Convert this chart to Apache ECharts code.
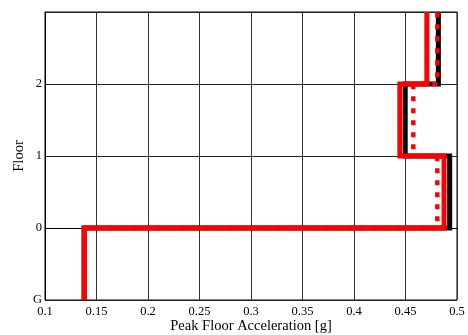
<!DOCTYPE html>
<html>
<head>
<meta charset="utf-8">
<script src="https://cdn.jsdelivr.net/npm/echarts@6/dist/echarts.min.js"></script>
<style>
  html, body { margin: 0; padding: 0; background: #fff; }
  #chart { width: 468px; height: 335px; }
</style>
</head>
<body>
<div id="chart"></div>
<script>
// Floor levels (y positions) and their tick labels
const floorLevels = [-1, 0, 1, 2];
const floorTickLabels = ['G', '0', '1', '2', ''];

// Peak floor acceleration [g] per level (G, 0, 1, 2)
const pfaBlack = [0.138, 0.4929, 0.4497, 0.4819];
const pfaRedDotted = [0.138, 0.4809, 0.4576, 0.4809];
const pfaRed = [0.138, 0.4874, 0.4445, 0.4707];

// Build a step profile: each value holds from its level up to the next one
function stepProfile(values) {
  const pts = [];
  values.forEach((v, i) => {
    pts.push([v, floorLevels[i]]);
    pts.push([v, floorLevels[i] + 1]);
  });
  return pts;
}

const font = 'Liberation Serif';
const chart = echarts.init(document.getElementById('chart'));
chart.setOption({
  animation: false,
  backgroundColor: '#fff',
  grid: {
    left: 45, right: 11, top: 12, bottom: 35,
    outerBoundsMode: 'none',
    show: true, borderColor: '#000', borderWidth: 1
  },
  xAxis: {
    type: 'value',
    min: 0.1, max: 0.5, interval: 0.05,
    name: 'Peak Floor Acceleration [g]',
    nameLocation: 'middle',
    nameGap: 19,
    nameMoveOverlap: false,
    nameTextStyle: { fontFamily: font, fontSize: 14.5, color: '#000' },
    axisLine: { show: true, lineStyle: { color: '#000', width: 1 } },
    axisTick: { show: false },
    axisLabel: {
      fontFamily: font, fontSize: 12.5, color: '#000', margin: 5,
      formatter: v => String(parseFloat(v.toFixed(2)))
    },
    splitLine: { show: true, lineStyle: { color: '#333', width: 1 } }
  },
  yAxis: {
    type: 'value',
    min: -1, max: 3, interval: 1,
    name: 'Floor',
    nameLocation: 'middle',
    nameGap: 18,
    nameRotate: 90,
    nameMoveOverlap: false,
    nameTextStyle: { fontFamily: font, fontSize: 14.5, color: '#000' },
    axisLine: { show: true, lineStyle: { color: '#000', width: 1 } },
    axisTick: { show: false },
    axisLabel: {
      fontFamily: font, fontSize: 12.5, color: '#000', margin: 3,
      formatter: v => floorTickLabels[Math.round(v) + 1]
    },
    splitLine: { show: true, lineStyle: { color: '#222', width: 1 } }
  },
  series: [
    {
      type: 'line', data: stepProfile(pfaBlack), symbol: 'none',
      lineStyle: { color: '#000', width: 5, join: 'miter' }, z: 2
    },
    {
      type: 'line', data: stepProfile(pfaRedDotted), symbol: 'none',
      lineStyle: { color: '#ff0000', width: 4.5, type: [5, 7], join: 'miter' }, z: 3
    },
    {
      type: 'line', data: stepProfile(pfaRed), symbol: 'none',
      lineStyle: { color: '#ff0000', width: 5, join: 'miter' }, z: 4
    }
  ]
});
</script>
</body>
</html>
